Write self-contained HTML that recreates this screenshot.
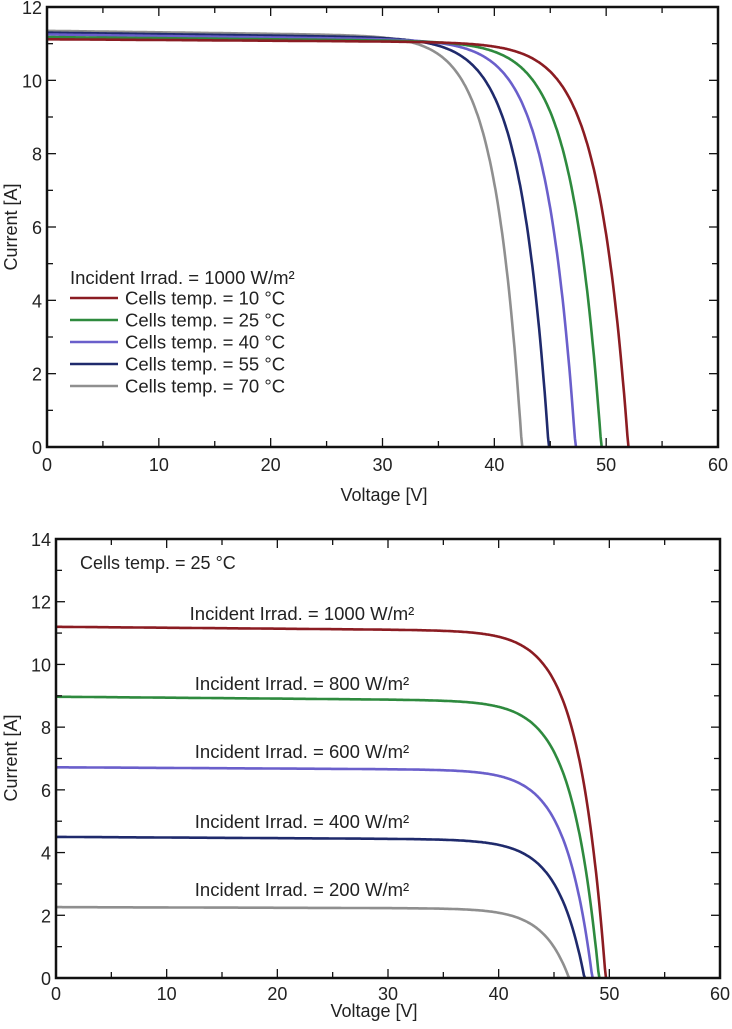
<!DOCTYPE html>
<html><head><meta charset="utf-8"><style>
body{margin:0;background:#fff;width:732px;height:1024px;overflow:hidden}
svg text{font-family:"Liberation Sans",Arial,sans-serif;fill:#222}
</style></head><body>
<svg id="s" width="732" height="1024" xmlns="http://www.w3.org/2000/svg"></svg>
<script>
const s=document.getElementById('s');let h='';
function plot(L,T,R,B,xmax,ymax,ystep,curves,xl){
 const sx=v=>L+(R-L)*v/xmax, sy=i=>B-(B-T)*i/ymax;
 curves.forEach(c=>{let d='';for(let v=0;v<=c.voc;v+=0.1){let i=c.isc*(1-Math.exp((v-c.voc)/c.a))-c.sl*v;if(i<0)i=0;d+=(d?'L':'M')+sx(v).toFixed(1)+' '+sy(i).toFixed(1);}
 d+='L'+sx(c.voc).toFixed(1)+' '+sy(0);
 h+=`<path d="${d}" fill="none" stroke="${c.col}" stroke-width="2.6"/>`;});
 h+=`<rect x="${L}" y="${T}" width="${R-L}" height="${B-T}" fill="none" stroke="#111" stroke-width="2.5"/>`;
 for(let v=0;v<=xmax;v+=5){const x=sx(v),len=v%10?6:9;h+=`<line x1="${x}" y1="${B}" x2="${x}" y2="${B-len}" stroke="#111" stroke-width="1.3"/><line x1="${x}" y1="${T}" x2="${x}" y2="${T+len}" stroke="#111" stroke-width="1.3"/>`;
  if(v%10==0)h+=`<text x="${x}" y="${B+xl}" font-size="18" text-anchor="middle">${v}</text>`;}
 for(let i=0;i<=ymax;i+=1){const y=sy(i),len=i%ystep?6:9;h+=`<line x1="${L}" y1="${y}" x2="${L+len}" y2="${y}" stroke="#111" stroke-width="1.3"/><line x1="${R}" y1="${y}" x2="${R-len}" y2="${y}" stroke="#111" stroke-width="1.3"/>`;
  if(i%ystep==0)h+=`<text x="${L-5}" y="${y+7}" font-size="18" text-anchor="end">${i}</text>`;}
}
const C=['#8b1c22','#2e8a3e','#6a5fcb','#1f2a6c','#8f8f8f'];
plot(47,7,718,447,60,12,2,[
 {isc:11.35,voc:42.5,a:2.4,sl:0.004,col:C[4]},
 {isc:11.3,voc:44.9,a:2.5,sl:0.004,col:C[3]},
 {isc:11.25,voc:47.3,a:2.55,sl:0.004,col:C[2]},
 {isc:11.18,voc:49.6,a:2.6,sl:0.003,col:C[1]},
 {isc:11.12,voc:52,a:2.65,sl:0.002,col:C[0]}],24);
plot(56,539,720,978,60,14,2,[
 {isc:2.26,voc:46.4,a:2.3,sl:0.001,col:C[4]},
 {isc:4.5,voc:47.8,a:2.4,sl:0.002,col:C[3]},
 {isc:6.72,voc:48.5,a:2.4,sl:0.002,col:C[2]},
 {isc:8.97,voc:49.1,a:2.4,sl:0.003,col:C[1]},
 {isc:11.2,voc:49.7,a:2.4,sl:0.003,col:C[0]}],22);
h+=`<text x="384" y="501" font-size="18" text-anchor="middle">Voltage [V]</text>`;
h+=`<text x="374" y="1017" font-size="18" text-anchor="middle">Voltage [V]</text>`;
h+=`<text transform="translate(17,227) rotate(-90)" font-size="18" text-anchor="middle">Current [A]</text>`;
h+=`<text transform="translate(17,758) rotate(-90)" font-size="18" text-anchor="middle">Current [A]</text>`;
h+=`<text x="70" y="284" font-size="18.5">Incident Irrad. = 1000 W/m²</text>`;
['10','25','40','55','70'].forEach((t,k)=>{const y=298+k*22;h+=`<line x1="70" y1="${y}" x2="118" y2="${y}" stroke="${C[k]}" stroke-width="2.6"/><text x="125" y="${y+6.5}" font-size="18.5">Cells temp. = ${t} °C</text>`;});
h+=`<text x="80" y="569" font-size="18">Cells temp. = 25 °C</text>`;
[[1000,620],[800,690],[600,758],[400,828],[200,896]].forEach(([w,y])=>{h+=`<text x="302" y="${y}" font-size="18.5" text-anchor="middle">Incident Irrad. = ${w} W/m²</text>`;});
s.innerHTML=h;
</script>
</body></html>
